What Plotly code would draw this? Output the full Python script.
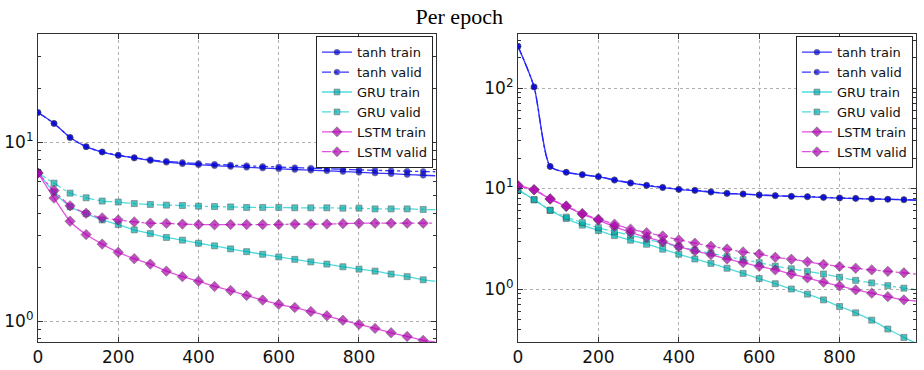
import plotly.graph_objects as go

epochs = [0, 40, 80, 120, 160, 200, 240, 280, 320, 360, 400, 440, 480, 520, 560, 600,
          640, 680, 720, 760, 800, 840, 880, 920, 960]
end_epoch = 990

# Left panel
tanh_train_L = [14.6, 12.7, 10.6, 9.42, 8.79, 8.41, 8.13, 7.88, 7.71, 7.57, 7.46, 7.38, 7.30,
                7.22, 7.15, 7.08, 7.02, 6.96, 6.90, 6.84, 6.77, 6.71, 6.65, 6.58, 6.52]
tanh_valid_L = [14.6, 12.7, 10.6, 9.42, 8.80, 8.45, 8.18, 7.95, 7.80, 7.68, 7.58, 7.50, 7.43,
                7.37, 7.30, 7.25, 7.19, 7.14, 7.09, 7.04, 6.99, 6.95, 6.91, 6.87, 6.84]
gru_train_L = [6.71, 5.25, 4.35, 3.98, 3.67, 3.46, 3.23, 3.08, 2.93, 2.83, 2.72, 2.63, 2.53,
               2.44, 2.36, 2.28, 2.21, 2.14, 2.08, 2.01, 1.95, 1.90, 1.83, 1.77, 1.70]
gru_valid_L = [6.71, 5.89, 5.18, 4.88, 4.68, 4.62, 4.53, 4.48, 4.44, 4.42, 4.38, 4.36, 4.34,
               4.31, 4.31, 4.31, 4.29, 4.29, 4.29, 4.27, 4.27, 4.23, 4.23, 4.23, 4.20]
lstm_train_L = [6.71, 4.86, 3.61, 3.04, 2.69, 2.42, 2.23, 2.08, 1.90, 1.77, 1.67, 1.56, 1.48,
                1.39, 1.31, 1.24, 1.19, 1.13, 1.07, 1.01, 0.958, 0.91, 0.86, 0.82, 0.78]
lstm_valid_L = [6.71, 5.36, 4.40, 4.00, 3.77, 3.67, 3.58, 3.52, 3.51, 3.48, 3.46, 3.45, 3.46,
                3.46, 3.46, 3.46, 3.48, 3.48, 3.48, 3.50, 3.52, 3.52, 3.52, 3.52, 3.52]
end_L = {"tanh train": 6.48, "tanh valid": 6.82, "GRU train": 1.67, "GRU valid": 4.19,
         "LSTM train": 0.765, "LSTM valid": 3.52}

# Right panel
tanh_train_R = [260, 102.6, 16.6, 14.5, 13.7, 13.1, 12.1, 11.3, 10.7, 10.2, 9.77, 9.55, 9.20,
                8.91, 8.79, 8.59, 8.46, 8.32, 8.26, 8.13, 8.02, 7.95, 7.86, 7.80, 7.71]
tanh_valid_R = [260, 102.6, 16.6, 14.5, 13.75, 13.15, 12.2, 11.4, 10.8, 10.3, 9.85, 9.62, 9.28,
                8.98, 8.85, 8.66, 8.52, 8.39, 8.32, 8.19, 8.08, 8.00, 7.90, 7.84, 7.76]
gru_train_R = [9.70, 7.71, 6.04, 5.02, 4.32, 3.82, 3.40, 3.06, 2.79, 2.49, 2.22, 1.99, 1.80,
               1.61, 1.43, 1.27, 1.13, 1.00, 0.89, 0.78, 0.67, 0.58, 0.49, 0.40, 0.33]
gru_valid_R = [9.70, 7.75, 6.10, 5.20, 4.58, 4.08, 3.72, 3.43, 3.13, 2.88, 2.64, 2.43, 2.27,
               2.10, 1.96, 1.83, 1.69, 1.59, 1.50, 1.41, 1.31, 1.22, 1.15, 1.08, 1.02]
lstm_train_R = [10.6, 9.70, 7.84, 6.62, 5.56, 4.85, 4.18, 3.67, 3.28, 2.96, 2.64, 2.39, 2.20,
                1.99, 1.83, 1.68, 1.55, 1.41, 1.29, 1.17, 1.07, 0.98, 0.91, 0.84, 0.78]
lstm_valid_R = [10.7, 9.75, 7.90, 6.70, 5.65, 4.95, 4.42, 3.94, 3.64, 3.37, 3.08, 2.86, 2.66,
                2.50, 2.34, 2.23, 2.07, 1.98, 1.87, 1.76, 1.68, 1.61, 1.55, 1.50, 1.45]
end_R = {"tanh train": 7.62, "tanh valid": 7.70, "GRU train": 0.29, "GRU valid": 0.99,
         "LSTM train": 0.76, "LSTM valid": 1.41}

x_ticks = [0, 200, 400, 600, 800]
y_ticks_L = [1, 10]
y_ticks_R = [1, 10, 100]

styles = {
    "tanh": dict(line="rgba(30,30,255,0.9)", marker="#0000d8", symbol="circle", size=6),
    "GRU": dict(line="rgba(60,215,215,0.9)", marker="#00aaaa", symbol="square", size=6),
    "LSTM": dict(line="rgba(225,60,225,0.9)", marker="#aa00aa", symbol="diamond", size=8),
}

fig = go.Figure()

def add_series(name, vals, endval, xa, ya, legend):
    model, kind = name.split(" ")
    st = styles[model]
    xs = epochs + [end_epoch]
    ys = vals + [endval]
    sizes = [st["size"]] * len(epochs) + [0]
    fig.add_trace(go.Scatter(
        x=xs, y=ys, name=name, mode="lines+markers", xaxis=xa, yaxis=ya, legend=legend,
        line=dict(color=st["line"], width=1.3, shape="spline", smoothing=0.7,
                  dash="solid" if kind == "train" else "dashdot"),
        marker=dict(color=st["marker"], symbol=st["symbol"], size=sizes,
                    line=dict(color="#333333", width=0.6)),
        showlegend=True,
    ))

left = [("tanh train", tanh_train_L), ("tanh valid", tanh_valid_L),
        ("GRU train", gru_train_L), ("GRU valid", gru_valid_L),
        ("LSTM train", lstm_train_L), ("LSTM valid", lstm_valid_L)]
right = [("tanh train", tanh_train_R), ("tanh valid", tanh_valid_R),
         ("GRU train", gru_train_R), ("GRU valid", gru_valid_R),
         ("LSTM train", lstm_train_R), ("LSTM valid", lstm_valid_R)]

for n, v in left:
    add_series(n, v, end_L[n], "x", "y", "legend")
for n, v in right:
    add_series(n, v, end_R[n], "x2", "y2", "legend2")

font_fam = "DejaVu Sans, sans-serif"

def xaxis_cfg(domain, rng, anchor):
    return dict(domain=domain, range=rng, anchor=anchor, automargin=False,
                tickvals=x_ticks, ticktext=[str(t) for t in x_ticks],
                showgrid=True, gridcolor="#b0b0b0", griddash="dot", gridwidth=1,
                showline=True, linecolor="#333333", linewidth=1.2, mirror="ticks",
                ticks="inside", ticklen=5, tickcolor="#333333",
                tickfont=dict(family=font_fam, size=17, color="#111"), zeroline=False)

def minor_vals(lo_dec, hi_dec):
    vals = []
    for d in range(lo_dec, hi_dec + 1):
        for m in range(2, 10):
            vals.append(m * 10 ** d)
    return vals

def yaxis_cfg(domain, rng, ticks, anchor, minor):
    return dict(domain=domain, type="log", range=rng, anchor=anchor, automargin=False,
                tickvals=ticks, ticktext=["10<sup>%d</sup>" % i for i in range(len(ticks))],
                showgrid=True, gridcolor="#b0b0b0", griddash="dot", gridwidth=1,
                showline=True, linecolor="#333333", linewidth=1.2, mirror="ticks",
                ticks="inside", ticklen=5, tickcolor="#333333",
                tickfont=dict(family=font_fam, size=17, color="#111"), zeroline=False,
                minor=dict(tickmode="array", tickvals=minor, ticks="inside", ticklen=3,
                           tickcolor="#333333", showgrid=False))

legend_common = dict(bgcolor="white", bordercolor="#222", borderwidth=1,
                     font=dict(family=font_fam, size=13, color="#111"),
                     xanchor="right", yanchor="top", y=0.902, tracegroupgap=0,
                     itemwidth=30)

fig.update_layout(
    width=924, height=370,
    margin=dict(l=0, r=0, t=0, b=0, autoexpand=False),
    paper_bgcolor="white", plot_bgcolor="white",
    title=dict(text="Per epoch", x=0.497, xanchor="center", y=0.955, yanchor="middle",
               font=dict(family="Liberation Serif, Times New Roman, serif", size=22, color="#000")),
    xaxis=xaxis_cfg([0.0411, 0.4719], [0, 992], "y"),
    yaxis=yaxis_cfg([0.0757, 0.908], [-0.117, 1.603], y_ticks_L, "x", minor_vals(-1, 1)),
    xaxis2=xaxis_cfg([0.5606, 0.9913], [0, 990], "y2"),
    yaxis2=yaxis_cfg([0.0757, 0.908], [-0.527, 2.537], y_ticks_R, "x2", minor_vals(-1, 2)),
    legend=dict(x=0.4686, **legend_common),
    legend2=dict(x=0.988, **legend_common),
)

fig.write_html("out.html", config={"displayModeBar": False},
               post_script="document.body.style.margin='0';document.body.style.overflow='hidden';")
